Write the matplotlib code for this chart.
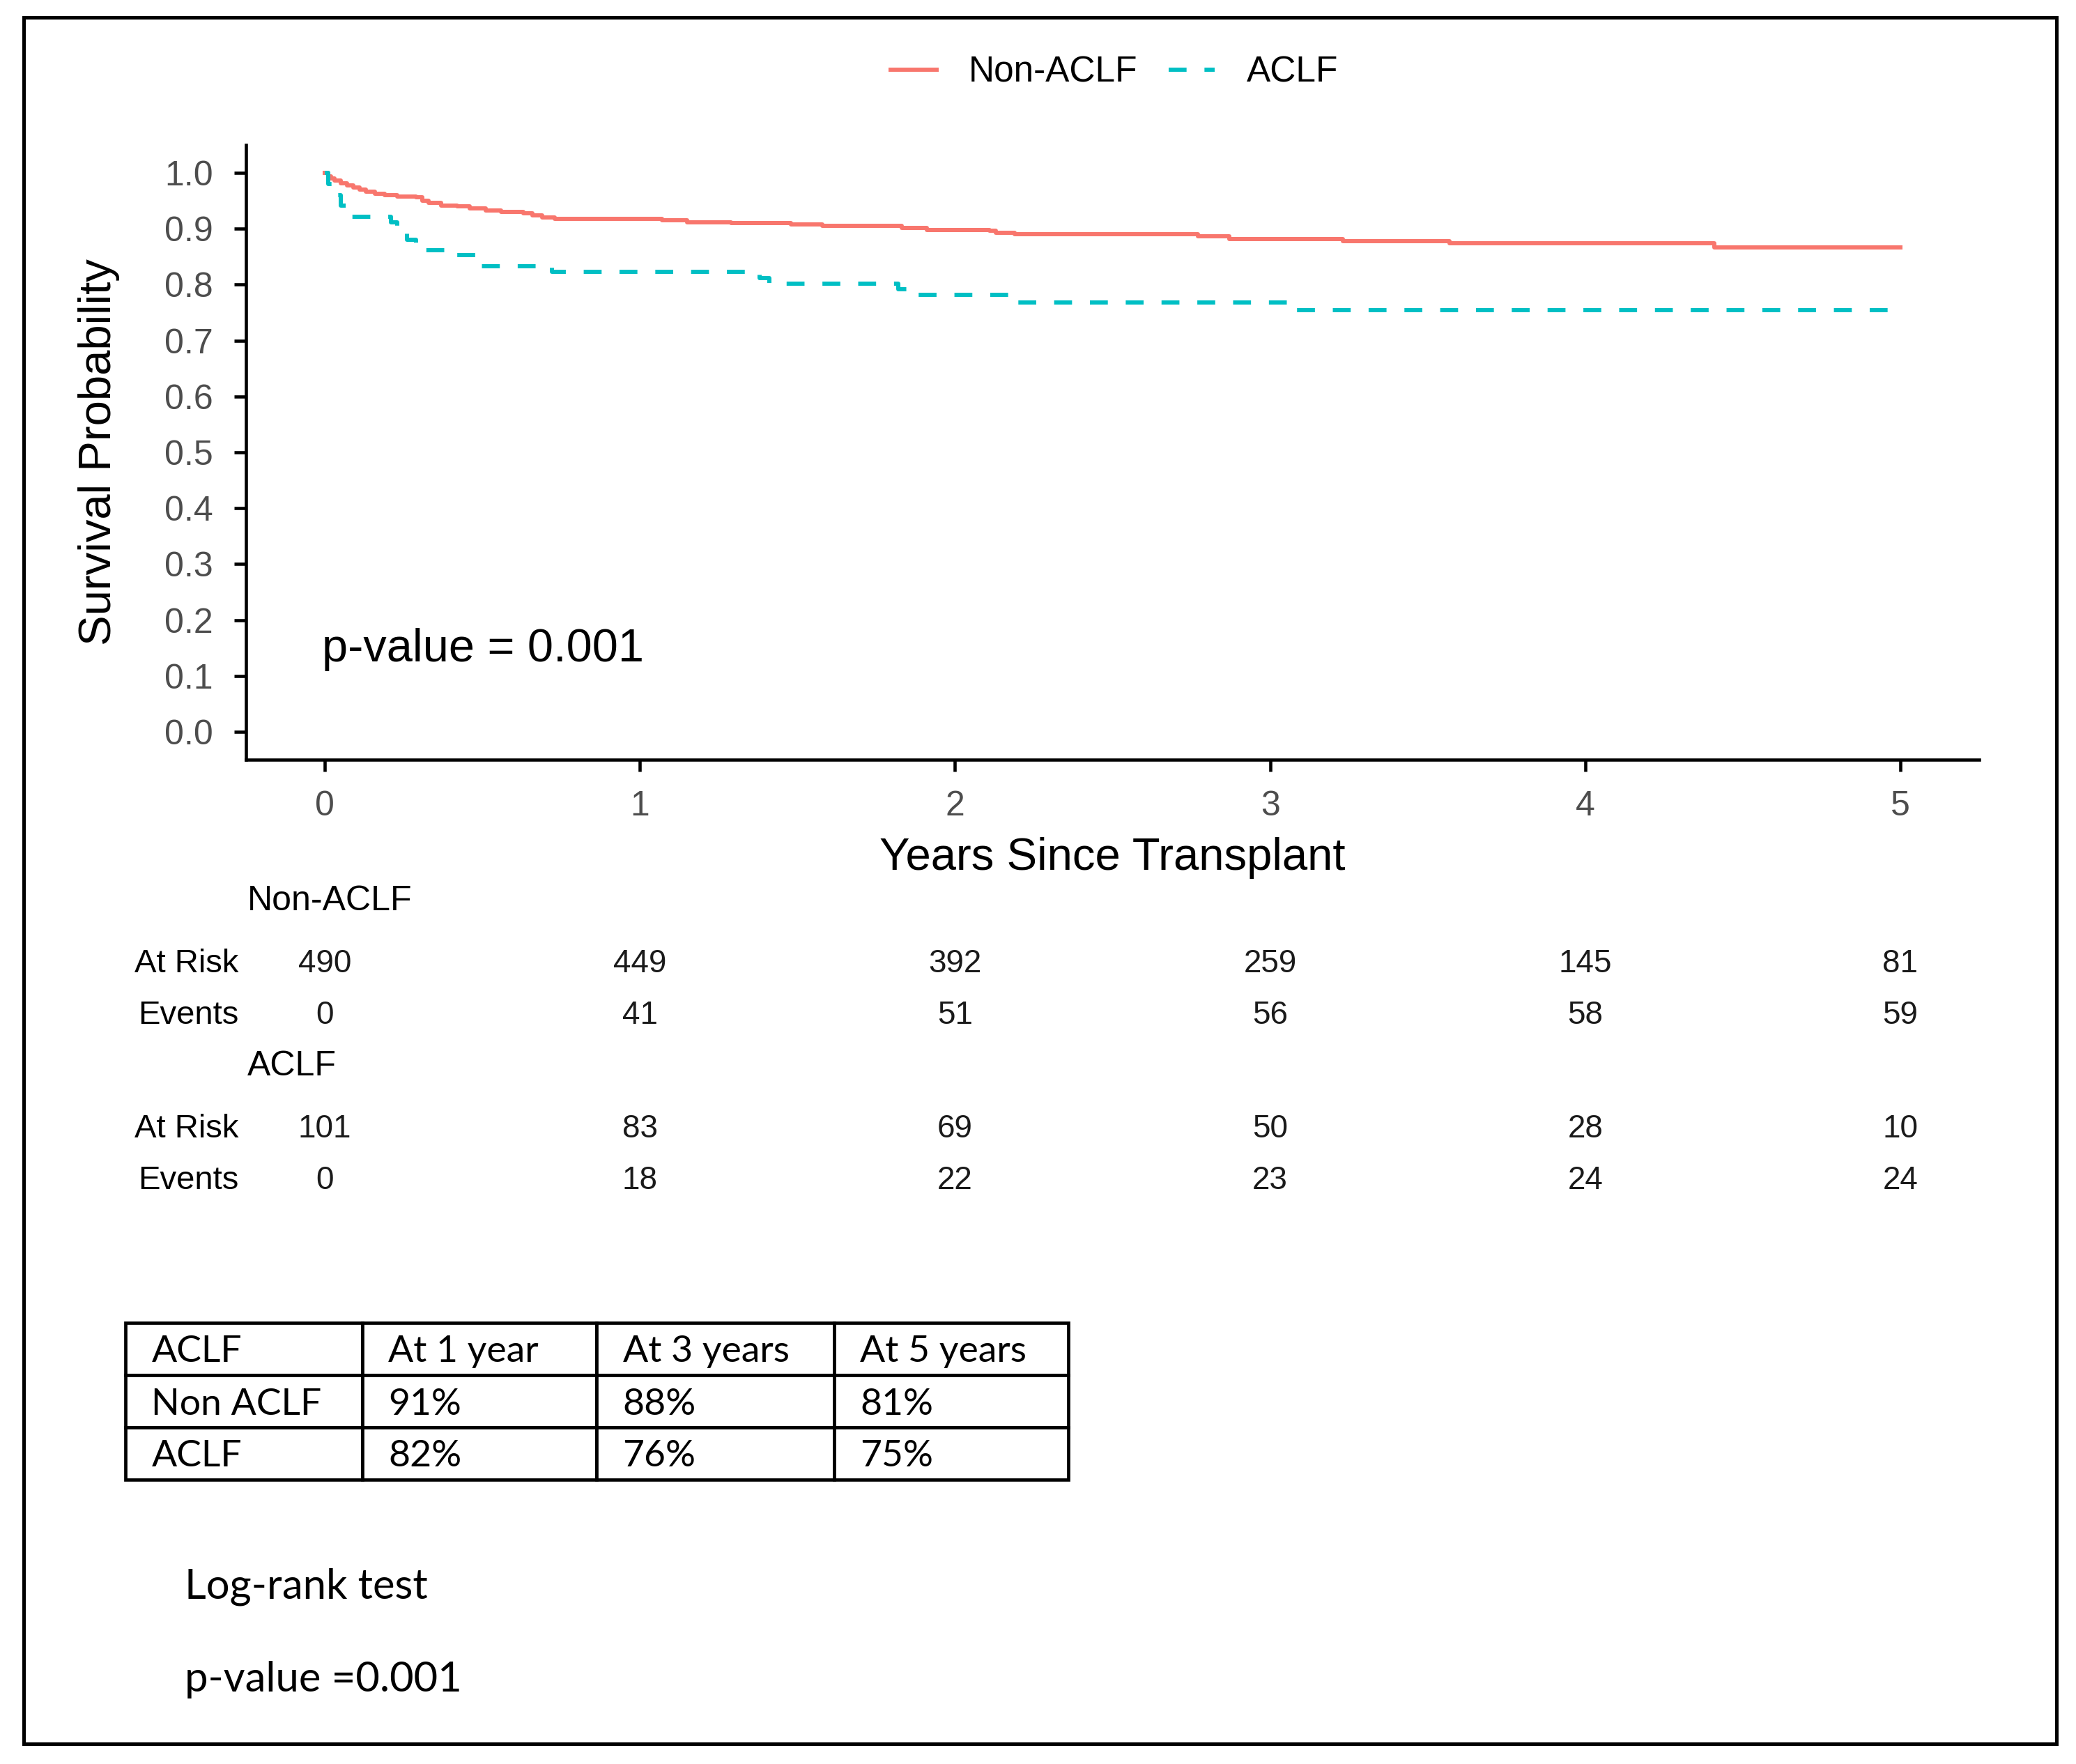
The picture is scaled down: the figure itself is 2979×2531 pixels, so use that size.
import matplotlib
matplotlib.use("Agg")
import matplotlib.pyplot as plt
from matplotlib.transforms import blended_transform_factory
from matplotlib.patches import Rectangle

# Kaplan-Meier steps (years, survival)
t_non = [0.00, 0.01, 0.02, 0.03, 0.05, 0.07, 0.09, 0.11, 0.13, 0.16, 0.19, 0.23,
         0.29, 0.31, 0.33, 0.37, 0.42, 0.46, 0.51, 0.56, 0.63, 0.66, 0.69, 0.73,
         1.07, 1.15, 1.29, 1.48, 1.58, 1.83, 1.91, 2.11, 2.13, 2.19, 2.77, 2.87,
         3.23, 3.57, 4.41, 5.00]
s_non = [1.000, 0.994, 0.990, 0.986, 0.982, 0.978, 0.974, 0.970, 0.966, 0.963, 0.960, 0.958,
         0.956, 0.950, 0.946, 0.942, 0.940, 0.937, 0.933, 0.930, 0.928, 0.924, 0.920, 0.918,
         0.915, 0.912, 0.910, 0.908, 0.905, 0.902, 0.898, 0.896, 0.893, 0.890, 0.886, 0.882,
         0.878, 0.874, 0.867, 0.867]

t_aclf = [0.00, 0.01, 0.03, 0.05, 0.08, 0.21, 0.23, 0.26, 0.29, 0.41, 0.49, 0.72,
          1.38, 1.41, 1.82, 1.86, 2.20, 3.07, 4.96]
s_aclf = [1.000, 0.980, 0.960, 0.941, 0.922, 0.912, 0.902, 0.881, 0.862, 0.853, 0.833, 0.823,
          0.812, 0.802, 0.792, 0.782, 0.768, 0.754, 0.754]

risk_times = [0, 1, 2, 3, 4, 5]
non_at_risk = [490, 449, 392, 259, 145, 81]
non_events = [0, 41, 51, 56, 58, 59]
aclf_at_risk = [101, 83, 69, 50, 28, 10]
aclf_events = [0, 18, 22, 23, 24, 24]

summary_header = ["ACLF", "At 1 year", "At 3 years", "At 5 years"]
summary_rows = [["Non ACLF", "91%", "88%", "81%"],
                ["ACLF", "82%", "76%", "75%"]]

RED = "#F8766D"
CYAN = "#00BFC4"
W, H = 2979, 2531

plt.rcParams["font.family"] = ["Liberation Sans", "DejaVu Sans"]

fig = plt.figure(figsize=(W / 100, H / 100), dpi=100)

# main KM axes, placed in pixel terms
ax = fig.add_axes([353 / W, 1 - 1090 / H, (2840 - 353) / W, (1090 - 208) / H])
ax.step(t_non, s_non, where="post", color=RED, lw=4.3, label="Non-ACLF")
ax.step(t_aclf, s_aclf, where="post", color=CYAN, lw=4.3, dashes=(4.3, 4.3), label="ACLF")
ax.set_xlim(-0.25, 5.25)
ax.set_ylim(-0.05, 1.05)
ax.set_xticks(risk_times)
yt = [i / 10 for i in range(11)]
ax.set_yticks(yt)
ax.set_yticklabels([f"{v:.1f}" for v in yt])
for s in ["top", "right"]:
    ax.spines[s].set_visible(False)
for s in ["left", "bottom"]:
    ax.spines[s].set_linewidth(3.3)
ax.tick_params(length=12, width=3.3, labelsize=36, labelcolor="#4D4D4D")
ax.tick_params(axis="x", pad=20)
ax.tick_params(axis="y", pad=22)
ax.set_xlabel("Years Since Transplant", fontsize=47, va="center")
ax.xaxis.set_label_coords(0.5, -(1231 - 1090) / 882)
ax.set_ylabel("Survival Probability", fontsize=47, va="center")
ax.yaxis.set_label_coords((142 - 353) / 2487, 0.5)
ax.text(-0.01, 0.147, "p-value = 0.001", fontsize=48, ha="left", va="center", color="black")

h, l = ax.get_legend_handles_labels()
fig.legend(h, l, loc="center", bbox_to_anchor=(1599 / W, 1 - 104 / H), ncol=2,
           frameon=False, fontsize=37, handlelength=1.29, handletextpad=0.88,
           columnspacing=0.88)

# numbers at risk table under the axis
tr = blended_transform_factory(ax.transData, fig.transFigure)
def fy(px):
    return 1 - px / H

fig.text(355 / W, fy(1293), "Non-ACLF", fontsize=36, ha="left", va="center")
fig.text(355 / W, fy(1530), "ACLF", fontsize=36, ha="left", va="center")
rows = [(1383, "At Risk", non_at_risk), (1457, "Events", non_events),
        (1620, "At Risk", aclf_at_risk), (1694, "Events", aclf_events)]
for ypx, lab, vals in rows:
    fig.text(342 / W, fy(ypx), lab, fontsize=34, ha="right", va="center")
    for t, v in zip(risk_times, vals):
        ax.text(t, fy(ypx), str(v), transform=tr, fontsize=33, ha="center", va="center",
                color="#1a1a1a")

# survival summary table
tax = fig.add_axes([180 / W, 1 - 2123 / H, (1533 - 180) / W, (2123 - 1898) / H])
tax.axis("off")
tab = tax.table(cellText=[summary_header] + summary_rows, cellLoc="left",
                colWidths=[340, 336, 341, 336], bbox=[0, 0, 1, 1])
tab.auto_set_font_size(False)
tab.set_fontsize(38.5)
for cell in tab.get_celld().values():
    cell.set_linewidth(3.4)
    cell.set_edgecolor("black")
    cell.PAD = 0.11
    cell.get_text().set_fontfamily(["Lato", "DejaVu Sans"])
    cell.get_text().set_va("center_baseline")

fig.text(265 / W, fy(2277), "Log-rank test", fontsize=43, ha="left", va="center",
         family=["Lato", "DejaVu Sans"])
fig.text(265 / W, fy(2410), "p-value =0.001", fontsize=43, ha="left", va="center",
         family=["Lato", "DejaVu Sans"])

# outer frame
fig.add_artist(Rectangle((34 / W, 1 - 2502 / H), (2951 - 34) / W, (2502 - 25) / H,
                         transform=fig.transFigure, fill=False, lw=3.6, ec="black"))

fig.savefig("out.png", dpi=100)
